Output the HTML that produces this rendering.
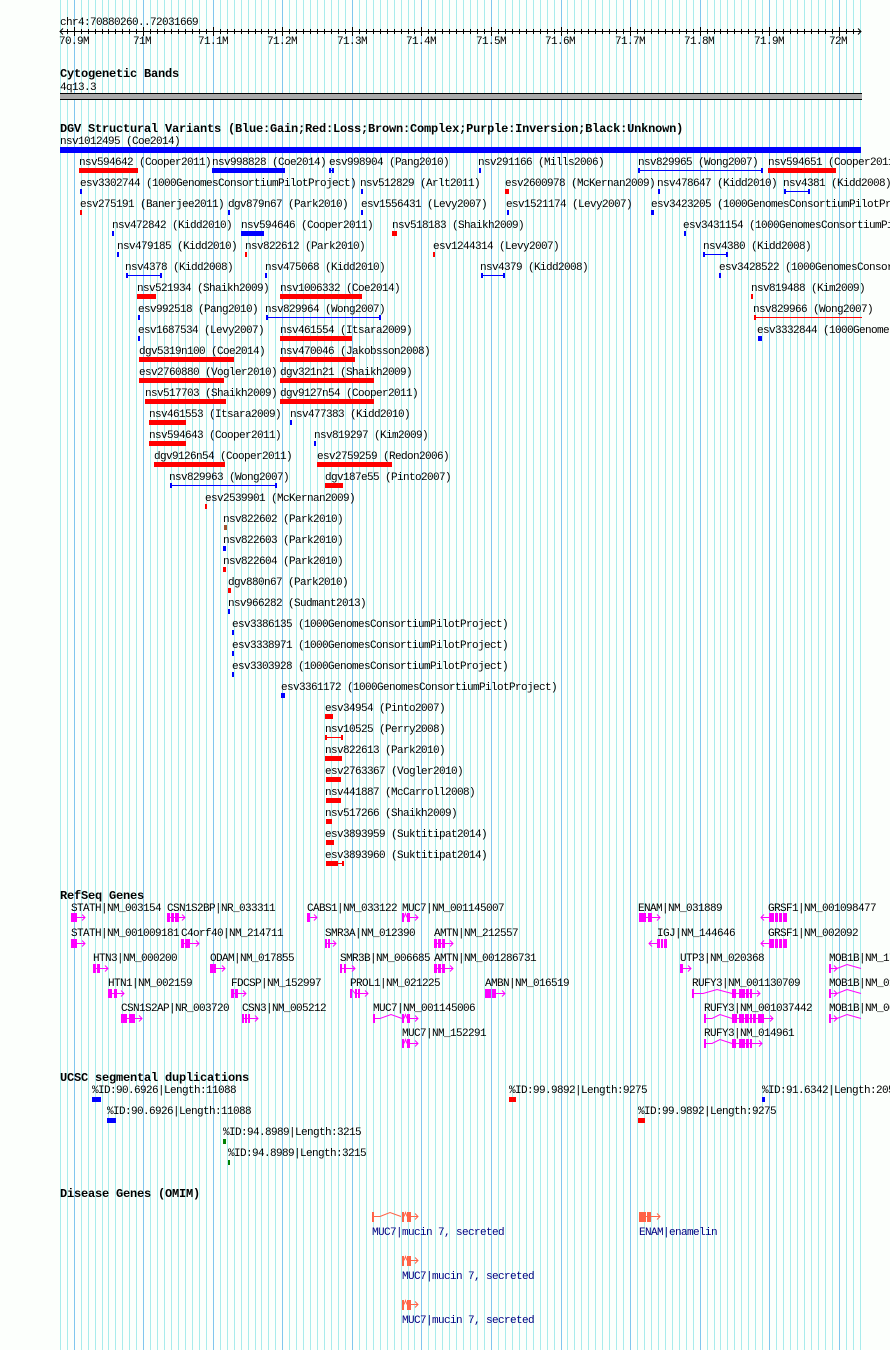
<!DOCTYPE html>
<html><head><meta charset="utf-8"><style>
html,body{margin:0;padding:0;background:#fcfffc;width:890px;height:1350px;overflow:hidden}
svg{display:block}
text{font-family:"Liberation Mono","DejaVu Sans Mono",monospace;font-size:11px;letter-spacing:-0.6px;fill:#000}
text.b{font-weight:bold;font-size:12px;letter-spacing:-0.2px}
text.o{fill:#000080}
.gl{stroke:#a8ecec;stroke-width:1;fill:none}
.gd{stroke:#80c6ee;stroke-width:1;fill:none}
.mg rect{fill:#ff00ff}.mg path{stroke:#ff00ff;fill:none;stroke-width:1}
.om rect{fill:#ff6347}.om path{stroke:#ff6347;fill:none;stroke-width:1}
</style></head><body>
<svg width="890" height="1350" viewBox="0 0 890 1350" xmlns="http://www.w3.org/2000/svg">
<rect x="0" y="0" width="890" height="1350" fill="#fcfffc"/>
<!-- grid -->
<path class="gl" d="M60.5 0V1350M67.5 0V1350M81.5 0V1350M88.5 0V1350M95.5 0V1350M102.5 0V1350M108.5 0V1350M115.5 0V1350M122.5 0V1350M129.5 0V1350M136.5 0V1350M150.5 0V1350M157.5 0V1350M164.5 0V1350M171.5 0V1350M178.5 0V1350M185.5 0V1350M192.5 0V1350M199.5 0V1350M206.5 0V1350M220.5 0V1350M227.5 0V1350M234.5 0V1350M241.5 0V1350M248.5 0V1350M255.5 0V1350M261.5 0V1350M268.5 0V1350M275.5 0V1350M289.5 0V1350M296.5 0V1350M303.5 0V1350M310.5 0V1350M317.5 0V1350M324.5 0V1350M331.5 0V1350M338.5 0V1350M345.5 0V1350M359.5 0V1350M366.5 0V1350M373.5 0V1350M380.5 0V1350M387.5 0V1350M394.5 0V1350M401.5 0V1350M408.5 0V1350M414.5 0V1350M428.5 0V1350M435.5 0V1350M442.5 0V1350M449.5 0V1350M456.5 0V1350M463.5 0V1350M470.5 0V1350M477.5 0V1350M484.5 0V1350M498.5 0V1350M505.5 0V1350M512.5 0V1350M519.5 0V1350M526.5 0V1350M533.5 0V1350M540.5 0V1350M547.5 0V1350M554.5 0V1350M567.5 0V1350M574.5 0V1350M581.5 0V1350M588.5 0V1350M595.5 0V1350M602.5 0V1350M609.5 0V1350M616.5 0V1350M623.5 0V1350M637.5 0V1350M644.5 0V1350M651.5 0V1350M658.5 0V1350M665.5 0V1350M672.5 0V1350M679.5 0V1350M686.5 0V1350M693.5 0V1350M707.5 0V1350M714.5 0V1350M720.5 0V1350M727.5 0V1350M734.5 0V1350M741.5 0V1350M748.5 0V1350M755.5 0V1350M762.5 0V1350M776.5 0V1350M783.5 0V1350M790.5 0V1350M797.5 0V1350M804.5 0V1350M811.5 0V1350M818.5 0V1350M825.5 0V1350M832.5 0V1350M846.5 0V1350M853.5 0V1350M860.5 0V1350"/>
<path class="gd" d="M74.5 0V1350M143.5 0V1350M213.5 0V1350M282.5 0V1350M352.5 0V1350M421.5 0V1350M491.5 0V1350M561.5 0V1350M630.5 0V1350M700.5 0V1350M769.5 0V1350M839.5 0V1350"/>

<!-- ruler -->
<text x="60" y="25">chr4:70880260..72031669</text>
<path stroke="#000" stroke-width="1" fill="none" d="M60 31.5H861M63 28.5L60 31.5L63 34.5M858 28.5L861 31.5L858 34.5"/>
<path stroke="#000" stroke-width="1" fill="none" d="M67.5 29v5M81.5 29v5M88.5 29v5M95.5 29v5M102.5 29v5M108.5 29v5M115.5 29v5M122.5 29v5M129.5 29v5M136.5 29v5M150.5 29v5M157.5 29v5M164.5 29v5M171.5 29v5M178.5 29v5M185.5 29v5M192.5 29v5M199.5 29v5M206.5 29v5M220.5 29v5M227.5 29v5M234.5 29v5M241.5 29v5M248.5 29v5M255.5 29v5M261.5 29v5M268.5 29v5M275.5 29v5M289.5 29v5M296.5 29v5M303.5 29v5M310.5 29v5M317.5 29v5M324.5 29v5M331.5 29v5M338.5 29v5M345.5 29v5M359.5 29v5M366.5 29v5M373.5 29v5M380.5 29v5M387.5 29v5M394.5 29v5M401.5 29v5M408.5 29v5M414.5 29v5M428.5 29v5M435.5 29v5M442.5 29v5M449.5 29v5M456.5 29v5M463.5 29v5M470.5 29v5M477.5 29v5M484.5 29v5M498.5 29v5M505.5 29v5M512.5 29v5M519.5 29v5M526.5 29v5M533.5 29v5M540.5 29v5M547.5 29v5M554.5 29v5M567.5 29v5M574.5 29v5M581.5 29v5M588.5 29v5M595.5 29v5M602.5 29v5M609.5 29v5M616.5 29v5M623.5 29v5M637.5 29v5M644.5 29v5M651.5 29v5M658.5 29v5M665.5 29v5M672.5 29v5M679.5 29v5M686.5 29v5M693.5 29v5M707.5 29v5M714.5 29v5M720.5 29v5M727.5 29v5M734.5 29v5M741.5 29v5M748.5 29v5M755.5 29v5M762.5 29v5M776.5 29v5M783.5 29v5M790.5 29v5M797.5 29v5M804.5 29v5M811.5 29v5M818.5 29v5M825.5 29v5M832.5 29v5M846.5 29v5M853.5 29v5M74.5 27v9M143.5 27v9M213.5 27v9M282.5 27v9M352.5 27v9M421.5 27v9M491.5 27v9M561.5 27v9M630.5 27v9M700.5 27v9M769.5 27v9M839.5 27v9"/>
<text x="59" y="44">70.9M</text>
<text x="133" y="44">71M</text>
<text x="198" y="44">71.1M</text>
<text x="267" y="44">71.2M</text>
<text x="337" y="44">71.3M</text>
<text x="406" y="44">71.4M</text>
<text x="476" y="44">71.5M</text>
<text x="545" y="44">71.6M</text>
<text x="615" y="44">71.7M</text>
<text x="684" y="44">71.8M</text>
<text x="754" y="44">71.9M</text>
<text x="829" y="44">72M</text>

<!-- cytoband -->
<text class="b" x="60" y="77">Cytogenetic Bands</text>
<text x="60" y="90">4q13.3</text>
<rect x="60" y="93" width="802" height="7" fill="#aaaaaa"/>
<rect x="60" y="93" width="802" height="1" fill="#000"/>
<rect x="60" y="99" width="802" height="1" fill="#000"/>

<!-- DGV -->
<text class="b" x="60" y="132">DGV Structural Variants (Blue:Gain;Red:Loss;Brown:Complex;Purple:Inversion;Black:Unknown)</text>
<text x="60" y="144">nsv1012495 (Coe2014)</text>
<rect x="60" y="147" width="801" height="6" fill="#0000ff"/>

<!-- row1 -->
<text x="79" y="165">nsv594642 (Cooper2011)</text><rect x="79" y="168" width="59" height="5" fill="#ff0000"/>
<text x="212" y="165">nsv998828 (Coe2014)</text><rect x="212" y="168" width="73" height="5" fill="#0000ff"/>
<text x="329" y="165">esv998904 (Pang2010)</text><g fill="#0000ff"><rect x="329" y="168" width="2" height="5"/><rect x="332" y="168" width="2" height="5"/><rect x="329" y="170" width="5" height="1"/></g>
<text x="478" y="165">nsv291166 (Mills2006)</text><rect x="479" y="168" width="2" height="5" fill="#0000ff"/>
<text x="638" y="165">nsv829965 (Wong2007)</text><g fill="#0000ff"><rect x="638" y="168" width="2" height="5"/><rect x="761" y="168" width="2" height="5"/><rect x="638" y="170" width="125" height="1"/></g>
<text x="768" y="165">nsv594651 (Cooper2011)</text><rect x="768" y="168" width="68" height="5" fill="#ff0000"/>
<!-- row2 -->
<text x="80" y="186">esv3302744 (1000GenomesConsortiumPilotProject)</text><rect x="80" y="189" width="2" height="5" fill="#0000ff"/>
<text x="360" y="186">nsv512829 (Arlt2011)</text><rect x="361" y="189" width="2" height="5" fill="#0000ff"/>
<text x="505" y="186">esv2600978 (McKernan2009)</text><rect x="505" y="189" width="4" height="5" fill="#ff0000"/>
<text x="657" y="186">nsv478647 (Kidd2010)</text><rect x="658" y="189" width="2" height="5" fill="#0000ff"/>
<text x="783" y="186">nsv4381 (Kidd2008)</text><g fill="#0000ff"><rect x="784" y="189" width="2" height="5"/><rect x="808" y="189" width="2" height="5"/><rect x="784" y="191" width="26" height="1"/></g>
<!-- row3 -->
<text x="80" y="207">esv275191 (Banerjee2011)</text><rect x="80" y="210" width="2" height="5" fill="#ff0000"/>
<text x="228" y="207">dgv879n67 (Park2010)</text><rect x="228" y="210" width="2" height="5" fill="#0000ff"/>
<text x="361" y="207">esv1556431 (Levy2007)</text><rect x="361" y="210" width="2" height="5" fill="#0000ff"/>
<text x="506" y="207">esv1521174 (Levy2007)</text><rect x="507" y="210" width="2" height="5" fill="#0000ff"/>
<text x="651" y="207">esv3423205 (1000GenomesConsortiumPilotProject)</text><rect x="651" y="210" width="3" height="5" fill="#0000ff"/>
<!-- row4 -->
<text x="112" y="228">nsv472842 (Kidd2010)</text><rect x="112" y="231" width="2" height="5" fill="#0000ff"/>
<text x="241" y="228">nsv594646 (Cooper2011)</text><rect x="241" y="231" width="23" height="5" fill="#0000ff"/>
<text x="392" y="228">nsv518183 (Shaikh2009)</text><rect x="392" y="231" width="5" height="5" fill="#ff0000"/>
<text x="683" y="228">esv3431154 (1000GenomesConsortiumPilotProject)</text><rect x="684" y="231" width="2" height="5" fill="#0000ff"/>
<!-- row5 -->
<text x="117" y="249">nsv479185 (Kidd2010)</text><rect x="117" y="252" width="2" height="5" fill="#0000ff"/>
<text x="245" y="249">nsv822612 (Park2010)</text><rect x="245" y="252" width="2" height="5" fill="#ff0000"/>
<text x="433" y="249">esv1244314 (Levy2007)</text><rect x="433" y="252" width="2" height="5" fill="#ff0000"/>
<text x="703" y="249">nsv4380 (Kidd2008)</text><g fill="#0000ff"><rect x="703" y="252" width="2" height="5"/><rect x="726" y="252" width="2" height="5"/><rect x="703" y="254" width="25" height="1"/></g>
<!-- row6 -->
<text x="125" y="270">nsv4378 (Kidd2008)</text><g fill="#0000ff"><rect x="126" y="273" width="2" height="5"/><rect x="160" y="273" width="2" height="5"/><rect x="126" y="275" width="36" height="1"/></g>
<text x="265" y="270">nsv475068 (Kidd2010)</text><rect x="265" y="273" width="2" height="5" fill="#0000ff"/>
<text x="480" y="270">nsv4379 (Kidd2008)</text><g fill="#0000ff"><rect x="481" y="273" width="2" height="5"/><rect x="503" y="273" width="2" height="5"/><rect x="481" y="275" width="24" height="1"/></g>
<text x="719" y="270">esv3428522 (1000GenomesConsortiumPilotProject)</text><rect x="719" y="273" width="2" height="5" fill="#0000ff"/>
<!-- row7 -->
<text x="137" y="291">nsv521934 (Shaikh2009)</text><rect x="137" y="294" width="19" height="5" fill="#ff0000"/>
<text x="280" y="291">nsv1006332 (Coe2014)</text><rect x="280" y="294" width="82" height="5" fill="#ff0000"/>
<text x="751" y="291">nsv819488 (Kim2009)</text><rect x="751" y="294" width="2" height="5" fill="#ff0000"/>
<!-- row8 -->
<text x="138" y="312">esv992518 (Pang2010)</text><rect x="138" y="315" width="2" height="5" fill="#0000ff"/>
<text x="265" y="312">nsv829964 (Wong2007)</text><g fill="#0000ff"><rect x="266" y="315" width="2" height="5"/><rect x="379" y="315" width="2" height="5"/><rect x="266" y="317" width="115" height="1"/></g>
<text x="753" y="312">nsv829966 (Wong2007)</text><g fill="#ff0000"><rect x="754" y="315" width="2" height="5"/><rect x="754" y="317" width="108" height="1"/></g>
<!-- row9 -->
<text x="138" y="333">esv1687534 (Levy2007)</text><rect x="138" y="336" width="2" height="5" fill="#0000ff"/>
<text x="280" y="333">nsv461554 (Itsara2009)</text><rect x="280" y="336" width="72" height="5" fill="#ff0000"/>
<text x="757" y="333">esv3332844 (1000GenomesConsortiumPilotProject)</text><rect x="758" y="336" width="4" height="5" fill="#0000ff"/>
<!-- row10 -->
<text x="139" y="354">dgv5319n100 (Coe2014)</text><rect x="139" y="357" width="95" height="5" fill="#ff0000"/>
<text x="280" y="354">nsv470046 (Jakobsson2008)</text><rect x="280" y="357" width="75" height="5" fill="#ff0000"/>
<!-- row11 -->
<text x="139" y="375">esv2760880 (Vogler2010)</text><rect x="139" y="378" width="85" height="5" fill="#ff0000"/>
<text x="280" y="375">dgv321n21 (Shaikh2009)</text><rect x="280" y="378" width="94" height="5" fill="#ff0000"/>
<!-- row12 -->
<text x="145" y="396">nsv517703 (Shaikh2009)</text><rect x="145" y="399" width="81" height="5" fill="#ff0000"/>
<text x="280" y="396">dgv9127n54 (Cooper2011)</text><rect x="280" y="399" width="94" height="5" fill="#ff0000"/>
<!-- row13 -->
<text x="149" y="417">nsv461553 (Itsara2009)</text><rect x="149" y="420" width="37" height="5" fill="#ff0000"/>
<text x="290" y="417">nsv477383 (Kidd2010)</text><rect x="290" y="420" width="2" height="5" fill="#0000ff"/>
<!-- row14 -->
<text x="149" y="438">nsv594643 (Cooper2011)</text><rect x="149" y="441" width="37" height="5" fill="#ff0000"/>
<text x="314" y="438">nsv819297 (Kim2009)</text><rect x="314" y="441" width="2" height="5" fill="#0000ff"/>
<!-- row15 -->
<text x="154" y="459">dgv9126n54 (Cooper2011)</text><rect x="154" y="462" width="71" height="5" fill="#ff0000"/>
<text x="317" y="459">esv2759259 (Redon2006)</text><rect x="317" y="462" width="75" height="5" fill="#ff0000"/>
<!-- row16 -->
<text x="169" y="480">nsv829963 (Wong2007)</text><g fill="#0000ff"><rect x="170" y="483" width="2" height="5"/><rect x="275" y="483" width="2" height="5"/><rect x="170" y="485" width="107" height="1"/></g>
<text x="325" y="480">dgv187e55 (Pinto2007)</text><rect x="325" y="483" width="18" height="5" fill="#ff0000"/>
<!-- rows17-26 -->
<text x="205" y="501">esv2539901 (McKernan2009)</text><rect x="205" y="504" width="2" height="5" fill="#ff0000"/>
<text x="223" y="522">nsv822602 (Park2010)</text><rect x="224" y="525" width="3" height="5" fill="#a0522d"/>
<text x="223" y="543">nsv822603 (Park2010)</text><rect x="223" y="546" width="3" height="5" fill="#0000ff"/>
<text x="223" y="564">nsv822604 (Park2010)</text><rect x="223" y="567" width="3" height="5" fill="#ff0000"/>
<text x="228" y="585">dgv880n67 (Park2010)</text><rect x="228" y="588" width="3" height="5" fill="#ff0000"/>
<text x="228" y="606">nsv966282 (Sudmant2013)</text><rect x="228" y="609" width="2" height="5" fill="#0000ff"/>
<text x="232" y="627">esv3386135 (1000GenomesConsortiumPilotProject)</text><rect x="232" y="630" width="2" height="5" fill="#0000ff"/>
<text x="232" y="648">esv3338971 (1000GenomesConsortiumPilotProject)</text><rect x="232" y="651" width="2" height="5" fill="#0000ff"/>
<text x="232" y="669">esv3303928 (1000GenomesConsortiumPilotProject)</text><rect x="232" y="672" width="2" height="5" fill="#0000ff"/>
<text x="281" y="690">esv3361172 (1000GenomesConsortiumPilotProject)</text><rect x="281" y="693" width="4" height="5" fill="#0000ff"/>
<!-- rows27-34 -->
<text x="325" y="711">esv34954 (Pinto2007)</text><rect x="325" y="714" width="8" height="5" fill="#ff0000"/>
<text x="325" y="732">nsv10525 (Perry2008)</text><g fill="#ff0000"><rect x="325" y="735" width="2" height="5"/><rect x="341" y="735" width="2" height="5"/><rect x="325" y="737" width="18" height="1"/></g>
<text x="325" y="753">nsv822613 (Park2010)</text><rect x="325" y="756" width="17" height="5" fill="#ff0000"/>
<text x="325" y="774">esv2763367 (Vogler2010)</text><rect x="326" y="777" width="15" height="5" fill="#ff0000"/>
<text x="325" y="795">nsv441887 (McCarroll2008)</text><rect x="326" y="798" width="15" height="5" fill="#ff0000"/>
<text x="325" y="816">nsv517266 (Shaikh2009)</text><rect x="326" y="819" width="6" height="5" fill="#ff0000"/>
<text x="325" y="837">esv3893959 (Suktitipat2014)</text><rect x="326" y="840" width="8" height="5" fill="#ff0000"/>
<text x="325" y="858">esv3893960 (Suktitipat2014)</text><g fill="#ff0000"><rect x="326" y="861" width="12" height="5"/><rect x="342" y="861" width="2" height="5"/><rect x="338" y="863" width="6" height="1"/></g>

<!-- RefSeq Genes -->
<text class="b" x="60" y="899">RefSeq Genes</text>
<text x="71" y="911">STATH|NM_003154</text>
<text x="167" y="911">CSN1S2BP|NR_033311</text>
<text x="307" y="911">CABS1|NM_033122</text>
<text x="402" y="911">MUC7|NM_001145007</text>
<text x="638" y="911">ENAM|NM_031889</text>
<text x="768" y="911">GRSF1|NM_001098477</text>
<text x="71" y="936">STATH|NM_001009181</text>
<text x="181" y="936">C4orf40|NM_214711</text>
<text x="325" y="936">SMR3A|NM_012390</text>
<text x="434" y="936">AMTN|NM_212557</text>
<text x="657" y="936">IGJ|NM_144646</text>
<text x="768" y="936">GRSF1|NM_002092</text>
<text x="93" y="961">HTN3|NM_000200</text>
<text x="210" y="961">ODAM|NM_017855</text>
<text x="340" y="961">SMR3B|NM_006685</text>
<text x="434" y="961">AMTN|NM_001286731</text>
<text x="680" y="961">UTP3|NM_020368</text>
<text x="829" y="961">MOB1B|NM_173468</text>
<text x="108" y="986">HTN1|NM_002159</text>
<text x="231" y="986">FDCSP|NM_152997</text>
<text x="350" y="986">PROL1|NM_021225</text>
<text x="485" y="986">AMBN|NM_016519</text>
<text x="692" y="986">RUFY3|NM_001130709</text>
<text x="829" y="986">MOB1B|NM_018221</text>
<text x="121" y="1011">CSN1S2AP|NR_003720</text>
<text x="242" y="1011">CSN3|NM_005212</text>
<text x="373" y="1011">MUC7|NM_001145006</text>
<text x="704" y="1011">RUFY3|NM_001037442</text>
<text x="829" y="1011">MOB1B|NM_001244766</text>
<text x="402" y="1036">MUC7|NM_152291</text>
<text x="704" y="1036">RUFY3|NM_014961</text>

<g class="mg">
<!-- row1 T=913 -->
<rect x="71" y="913" width="6" height="9"/><path d="M77 917.5H85M82 914.5L85 917.5L82 920.5"/>
<rect x="167" y="913" width="3" height="9"/><rect x="171" y="913" width="3" height="9"/><rect x="175" y="913" width="4" height="9"/><path d="M170 917.5H185M182 914.5L185 917.5L182 920.5"/>
<rect x="307" y="913" width="3" height="9"/><path d="M310 917.5H317M314 914.5L317 917.5L314 920.5"/>
<rect x="402" y="913" width="2" height="9"/><path d="M404 917.5L405.5 913.5L407 917.5"/><rect x="407" y="913" width="3" height="9"/><path d="M410 917.5H418M415 914.5L418 917.5L415 920.5"/>
<rect x="639" y="913" width="7" height="9"/><rect x="648" y="913" width="4" height="9"/><path d="M646 917.5H660M657 914.5L660 917.5L657 920.5"/>
<rect x="769" y="913" width="5" height="9"/><rect x="775" y="913" width="3" height="9"/><rect x="779" y="913" width="3" height="9"/><rect x="783" y="913" width="4" height="9"/><path d="M769 917.5H761M764 914.5L761 917.5L764 920.5"/>
<!-- row2 T=939 -->
<rect x="71" y="939" width="6" height="9"/><path d="M77 943.5H85M82 940.5L85 943.5L82 946.5"/>
<rect x="181" y="939" width="3" height="9"/><rect x="185" y="939" width="5" height="9"/><path d="M184 943.5H199M196 940.5L199 943.5L196 946.5"/>
<rect x="325" y="939" width="2" height="9"/><rect x="328" y="939" width="2" height="9"/><path d="M327 943.5H336M333 940.5L336 943.5L333 946.5"/>
<rect x="434" y="939" width="3" height="9"/><rect x="438" y="939" width="3" height="9"/><rect x="442" y="939" width="3" height="9"/><path d="M437 943.5H453M450 940.5L453 943.5L450 946.5"/>
<rect x="657" y="939" width="3" height="9"/><rect x="661" y="939" width="2" height="9"/><rect x="664" y="939" width="3" height="9"/><path d="M657 943.5H649M652 940.5L649 943.5L652 946.5"/>
<rect x="769" y="939" width="5" height="9"/><rect x="775" y="939" width="3" height="9"/><rect x="779" y="939" width="3" height="9"/><rect x="783" y="939" width="4" height="9"/><path d="M769 943.5H761M764 940.5L761 943.5L764 946.5"/>
<!-- row3 T=964 -->
<rect x="93" y="964" width="3" height="9"/><rect x="97" y="964" width="3" height="9"/><path d="M96 968.5H108M105 965.5L108 968.5L105 971.5"/>
<rect x="210" y="964" width="6" height="9"/><path d="M216 968.5H225M222 965.5L225 968.5L222 971.5"/>
<rect x="340" y="964" width="2" height="9"/><rect x="344" y="964" width="2" height="9"/><path d="M342 968.5H355M352 965.5L355 968.5L352 971.5"/>
<rect x="434" y="964" width="3" height="9"/><rect x="438" y="964" width="3" height="9"/><rect x="442" y="964" width="3" height="9"/><path d="M437 968.5H453M450 965.5L453 968.5L450 971.5"/>
<rect x="680" y="964" width="3" height="9"/><path d="M683 968.5H691M688 965.5L691 968.5L688 971.5"/>
<rect x="829" y="964" width="2" height="9"/><path d="M831 968.5H837M834 965.5L837 968.5L834 971.5M837 968.5L847 964.5L861 968.5"/>
<!-- row4 T=989 -->
<rect x="108" y="989" width="4" height="9"/><rect x="114" y="989" width="3" height="9"/><path d="M112 993.5H124M121 990.5L124 993.5L121 996.5"/>
<rect x="231" y="989" width="3" height="9"/><rect x="235" y="989" width="3" height="9"/><path d="M234 993.5H246M243 990.5L246 993.5L243 996.5"/>
<rect x="350" y="989" width="2" height="9"/><path d="M352 989.5L355 993.5"/><rect x="355" y="989" width="2" height="9"/><rect x="358" y="989" width="2" height="9"/><path d="M357 993.5H368M365 990.5L368 993.5L365 996.5"/>
<rect x="485" y="989" width="6" height="9"/><rect x="492" y="989" width="4" height="9"/><path d="M496 993.5H505M502 990.5L505 993.5L502 996.5"/>
<rect x="692" y="989" width="2" height="9"/><path d="M694 993.5H703L717 989.5L732 993.5"/><rect x="732" y="989" width="4" height="9"/><rect x="739" y="989" width="6" height="9"/><rect x="746" y="989" width="3" height="9"/><rect x="750" y="989" width="2" height="9"/><path d="M736 993.5H760M757 990.5L760 993.5L757 996.5"/>
<rect x="829" y="989" width="2" height="9"/><path d="M831 993.5H837M834 990.5L837 993.5L834 996.5M837 993.5L847 989.5L861 993.5"/>
<!-- row5 T=1014 -->
<rect x="121" y="1014" width="6" height="9"/><rect x="129" y="1014" width="6" height="9"/><path d="M127 1018.5H142M139 1015.5L142 1018.5L139 1021.5"/>
<rect x="242" y="1014" width="2" height="9"/><rect x="245" y="1014" width="2" height="9"/><rect x="248" y="1014" width="2" height="9"/><path d="M244 1018.5H258M255 1015.5L258 1018.5L255 1021.5"/>
<rect x="373" y="1014" width="2" height="9"/><path d="M375 1018.5H380L391 1014.5L402 1018.5"/>
<rect x="402" y="1014" width="2" height="9"/><path d="M404 1018.5L405.5 1014.5L407 1018.5"/><rect x="407" y="1014" width="3" height="9"/><path d="M410 1018.5H418M415 1015.5L418 1018.5L415 1021.5"/>
<rect x="704" y="1014" width="2" height="9"/><path d="M706 1018.5H712L720 1014.5L732 1018.5"/><rect x="732" y="1014" width="5" height="9"/><rect x="739" y="1014" width="5" height="9"/><rect x="745" y="1014" width="4" height="9"/><rect x="750" y="1014" width="2" height="9"/><rect x="753" y="1014" width="3" height="9"/><rect x="758" y="1014" width="6" height="9"/><path d="M737 1018.5H773M770 1015.5L773 1018.5L770 1021.5"/>
<rect x="829" y="1014" width="2" height="9"/><path d="M831 1018.5H837M834 1015.5L837 1018.5L834 1021.5M837 1018.5L847 1014.5L861 1018.5"/>
<!-- row6 T=1039 -->
<rect x="402" y="1039" width="2" height="9"/><path d="M404 1043.5L405.5 1039.5L407 1043.5"/><rect x="407" y="1039" width="3" height="9"/><path d="M410 1043.5H418M415 1040.5L418 1043.5L415 1046.5"/>
<rect x="704" y="1039" width="2" height="9"/><path d="M706 1043.5H712L720 1039.5L732 1043.5"/><rect x="732" y="1039" width="4" height="9"/><rect x="739" y="1039" width="6" height="9"/><rect x="746" y="1039" width="3" height="9"/><rect x="750" y="1039" width="2" height="9"/><path d="M736 1043.5H762M759 1040.5L762 1043.5L759 1046.5"/>
</g>

<!-- Segmental duplications -->
<text class="b" x="60" y="1081">UCSC segmental duplications</text>
<text x="92" y="1093">%ID:90.6926|Length:11088</text><rect x="92" y="1097" width="9" height="5" fill="#0000ff"/>
<text x="509" y="1093">%ID:99.9892|Length:9275</text><rect x="509" y="1097" width="7" height="5" fill="#ff0000"/>
<text x="762" y="1093">%ID:91.6342|Length:2057</text><rect x="762" y="1097" width="3" height="5" fill="#0000ff"/>
<text x="107" y="1114">%ID:90.6926|Length:11088</text><rect x="107" y="1118" width="9" height="5" fill="#0000ff"/>
<text x="638" y="1114">%ID:99.9892|Length:9275</text><rect x="638" y="1118" width="7" height="5" fill="#ff0000"/>
<text x="223" y="1135">%ID:94.8989|Length:3215</text><rect x="223" y="1139" width="3" height="5" fill="#008000"/>
<text x="228" y="1156">%ID:94.8989|Length:3215</text><rect x="228" y="1160" width="2" height="5" fill="#008000"/>

<!-- OMIM -->
<text class="b" x="60" y="1197">Disease Genes (OMIM)</text>
<g class="om">
<rect x="372" y="1212" width="2" height="10"/><path d="M374 1216.5H380L390 1212.5L401 1216.5"/>
<rect x="402" y="1212" width="2" height="10"/><path d="M404 1216.5L405.5 1212.5L407 1216.5"/><rect x="407" y="1212" width="4" height="10"/><path d="M411 1216.5H418M415 1213.5L418 1216.5L415 1219.5"/>
<rect x="639" y="1212" width="7" height="10"/><rect x="647" y="1212" width="4" height="10"/><path d="M646 1216.5H660M657 1213.5L660 1216.5L657 1219.5"/>
<rect x="402" y="1256" width="2" height="10"/><path d="M404 1260.5L405.5 1256.5L407 1260.5"/><rect x="407" y="1256" width="4" height="10"/><path d="M411 1260.5H418M415 1257.5L418 1260.5L415 1263.5"/>
<rect x="402" y="1300" width="2" height="10"/><path d="M404 1304.5L405.5 1300.5L407 1304.5"/><rect x="407" y="1300" width="4" height="10"/><path d="M411 1304.5H418M415 1301.5L418 1304.5L415 1307.5"/>
</g>
<text class="o" x="372" y="1235">MUC7|mucin 7, secreted</text>
<text class="o" x="639" y="1235">ENAM|enamelin</text>
<text class="o" x="402" y="1279">MUC7|mucin 7, secreted</text>
<text class="o" x="402" y="1323">MUC7|mucin 7, secreted</text>
</svg>
</body></html>
